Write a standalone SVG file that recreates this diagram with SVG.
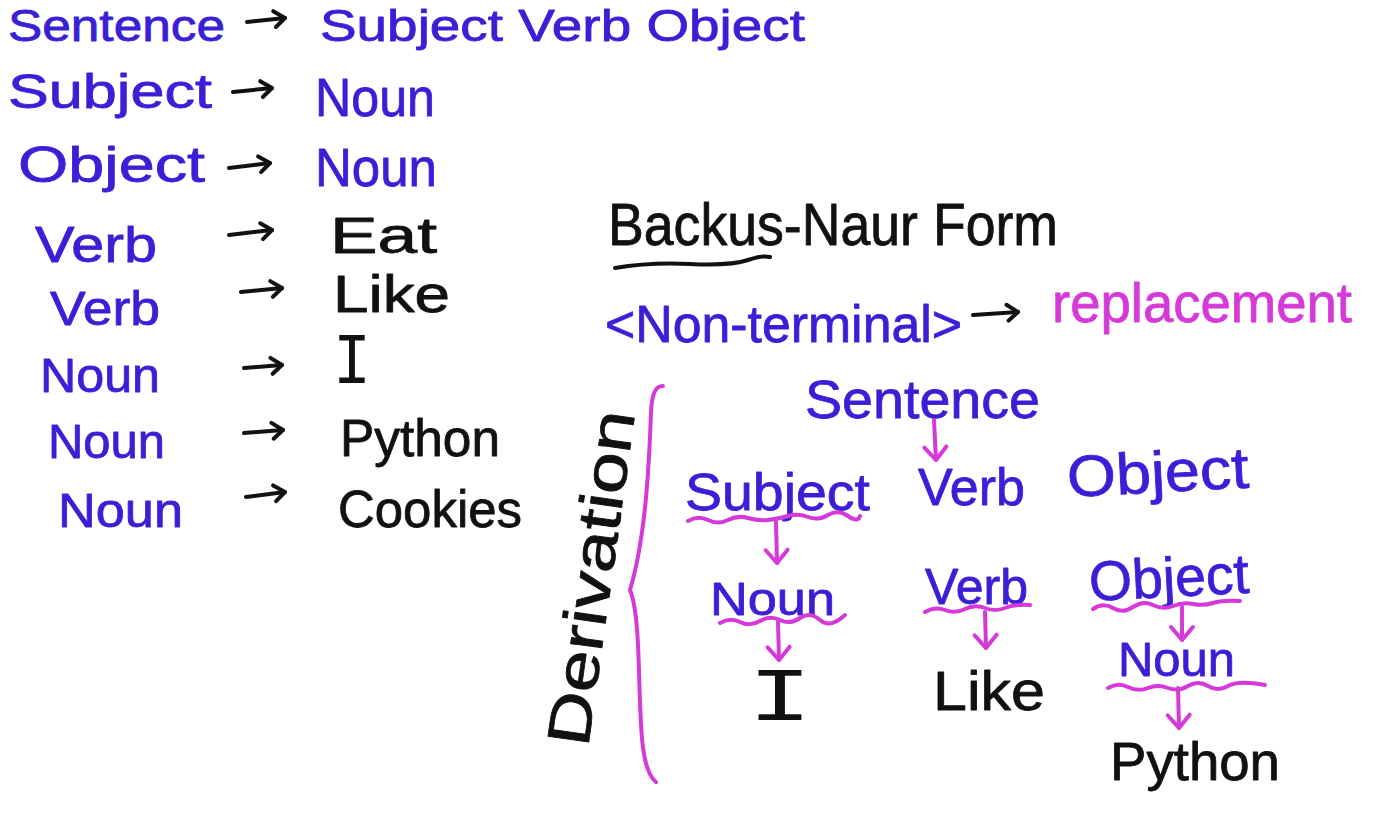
<svg xmlns="http://www.w3.org/2000/svg" width="1373" height="822" viewBox="0 0 1373 822">
<style>
text{font-family:"Liberation Sans","DejaVu Sans",sans-serif;stroke-width:0.8;stroke-linejoin:round}
.b{fill:#3a1fd6;stroke:#3a1fd6}
.k{fill:#111;stroke:#111}
.m{fill:#d53ad8;stroke:#d53ad8}
.mono{font-family:"Liberation Mono","DejaVu Sans Mono",monospace;stroke-width:0}
.ka{fill:none;stroke:#111;stroke-width:4;stroke-linecap:round;marker-end:url(#hk)}
.ma{fill:none;stroke:#d53ad8;stroke-width:4;stroke-linecap:round;marker-end:url(#hm)}
.ul{fill:none;stroke:#d53ad8;stroke-width:4;stroke-linecap:round;stroke-linejoin:round}
</style>
<defs>
<marker id="hk" markerUnits="userSpaceOnUse" viewBox="-15 -15 30 30" markerWidth="30" markerHeight="30" refX="0" refY="0" orient="auto" overflow="visible">
<path d="M-11,-8 L0,0 L-10,8" fill="none" stroke="#111" stroke-width="4" stroke-linecap="round" stroke-linejoin="round"/>
</marker>
<marker id="hm" markerUnits="userSpaceOnUse" viewBox="-15 -15 30 30" markerWidth="30" markerHeight="30" refX="0" refY="0" orient="auto" overflow="visible">
<path d="M-13,-11 L0,0 L-13,11" fill="none" stroke="#d53ad8" stroke-width="4" stroke-linecap="round" stroke-linejoin="round"/>
</marker>
</defs>
<rect width="1373" height="822" fill="#fff"/>

<g id="rules">
<g id="rule1"><text class="b" x="8" y="41" font-size="44" textLength="217" lengthAdjust="spacingAndGlyphs">Sentence</text><text class="b" x="320" y="41" font-size="44" textLength="485" lengthAdjust="spacingAndGlyphs">Subject Verb Object</text></g>
<g id="rule2"><text class="b" x="8" y="108" font-size="48" textLength="204" lengthAdjust="spacingAndGlyphs">Subject</text><text class="b" x="315" y="116" font-size="54" textLength="120" lengthAdjust="spacingAndGlyphs">Noun</text></g>
<g id="rule3"><text class="b" x="18" y="182" font-size="50" textLength="187" lengthAdjust="spacingAndGlyphs">Object</text><text class="b" x="315" y="186" font-size="54" textLength="122" lengthAdjust="spacingAndGlyphs">Noun</text></g>
<g id="rule4"><text class="b" x="35" y="262" font-size="50" textLength="122" lengthAdjust="spacingAndGlyphs">Verb</text><text class="k" x="330" y="253" font-size="50" textLength="107" lengthAdjust="spacingAndGlyphs">Eat</text></g>
<g id="rule5"><text class="b" x="50" y="325" font-size="48" textLength="110" lengthAdjust="spacingAndGlyphs">Verb</text><text class="k" x="333" y="312" font-size="52" textLength="117" lengthAdjust="spacingAndGlyphs">Like</text></g>
<g id="rule6"><text class="b" x="40" y="392" font-size="48" textLength="120" lengthAdjust="spacingAndGlyphs">Noun</text><text class="k mono" x="333" y="383" font-size="72" textLength="38" lengthAdjust="spacingAndGlyphs">I</text></g>
<g id="rule7"><text class="b" x="48" y="458" font-size="48" textLength="117" lengthAdjust="spacingAndGlyphs">Noun</text><text class="k" x="340" y="456" font-size="52" textLength="160" lengthAdjust="spacingAndGlyphs">Python</text></g>
<g id="rule8"><text class="b" x="58" y="527" font-size="48" textLength="125" lengthAdjust="spacingAndGlyphs">Noun</text><text class="k" x="338" y="527" font-size="52" textLength="184" lengthAdjust="spacingAndGlyphs">Cookies</text></g>
</g>

<g id="bnf">
<text class="k" x="608" y="245" font-size="60" textLength="450" lengthAdjust="spacingAndGlyphs">Backus-Naur Form</text>
<path d="M615,268 Q650,262 690,264 Q730,266 748,260 Q762,255 770,257" fill="none" stroke="#111" stroke-width="4" stroke-linecap="round"/>
<text class="b" x="605" y="342" font-size="52" textLength="357" lengthAdjust="spacingAndGlyphs">&lt;Non-terminal&gt;</text>
<text class="m" x="1052" y="322" font-size="56" textLength="300" lengthAdjust="spacingAndGlyphs">replacement</text>
</g>

<g id="derivation-label">
<text class="k" transform="translate(588,748) rotate(-82)" x="0" y="0" font-size="60" textLength="338" lengthAdjust="spacingAndGlyphs">Derivation</text>
<path d="M663,386 C655,386 652,394 651,412 C649,470 645,540 630,590 C642,620 637,700 643,748 C646,770 651,778 656,782" fill="none" stroke="#d53ad8" stroke-width="4" stroke-linecap="round"/>
</g>

<g id="tree">
<g id="n-sentence"><text class="b" x="805" y="418" font-size="54" textLength="235" lengthAdjust="spacingAndGlyphs">Sentence</text></g>
<g id="n-subject"><text class="b" x="685" y="510" font-size="52" textLength="185" lengthAdjust="spacingAndGlyphs">Subject</text></g>
<g id="n-verb"><text class="b" x="918" y="505" font-size="52" textLength="107" lengthAdjust="spacingAndGlyphs">Verb</text></g>
<g id="n-object"><text class="b" x="1068" y="497" font-size="58" textLength="182" lengthAdjust="spacingAndGlyphs" transform="rotate(-3 1068 497)">Object</text></g>
<g id="n-noun1"><text class="b" x="710" y="615" font-size="46" textLength="125" lengthAdjust="spacingAndGlyphs">Noun</text></g>
<g id="n-verb2"><text class="b" x="925" y="604" font-size="50" textLength="103" lengthAdjust="spacingAndGlyphs">Verb</text></g>
<g id="n-object2"><text class="b" x="1090" y="601" font-size="56" textLength="160" lengthAdjust="spacingAndGlyphs" transform="rotate(-3 1090 601)">Object</text></g>
<g id="n-i"><text class="k mono" x="748" y="720" font-size="76" textLength="64" lengthAdjust="spacingAndGlyphs">I</text></g>
<g id="n-like"><text class="k" x="933" y="710" font-size="56" textLength="112" lengthAdjust="spacingAndGlyphs">Like</text></g>
<g id="n-noun2"><text class="b" x="1118" y="676" font-size="48" textLength="117" lengthAdjust="spacingAndGlyphs">Noun</text></g>
<g id="n-python"><text class="k" x="1110" y="780" font-size="54" textLength="170" lengthAdjust="spacingAndGlyphs">Python</text></g>
</g>

<g id="connectors">
<path class="ka" d="M247,22 L285,18"/>
<path class="ka" d="M233,92 L272,88"/>
<path class="ka" d="M229,168 L270,163"/>
<path class="ka" d="M229,235 L272,230"/>
<path class="ka" d="M241,292 L282,288"/>
<path class="ka" d="M244,368 L282,365"/>
<path class="ka" d="M244,433 L283,430"/>
<path class="ka" d="M246,497 L285,492"/>
<path class="ka" d="M973,315 L1018,312"/>
<path class="ma" d="M934,420 L936,460"/>
<path class="ul" d="M688,521 Q698,515 708,520 T728,520 T748,518 T768,520 T788,516 T808,517 T828,515 T848,516 T860,516"/>
<path class="ma" d="M776,522 L777,563"/>
<path class="ul" d="M720,623 Q730,617 740,622 T760,621 T780,620 T800,618 T820,620 T845,615"/>
<path class="ma" d="M778,622 L779,660"/>
<path class="ul" d="M925,612 Q935,606 945,610 T965,609 T985,608 T1005,608 T1030,605"/>
<path class="ma" d="M985,612 L986,648"/>
<path class="ul" d="M1093,609 Q1103,602 1113,608 T1133,607 T1153,605 T1173,606 T1193,604 T1213,603 T1240,601"/>
<path class="ma" d="M1182,607 L1182,640"/>
<path class="ul" d="M1108,688 Q1118,682 1128,687 T1148,688 T1168,688 T1188,686 T1208,686 T1228,686 T1265,685"/>
<path class="ma" d="M1178,688 L1179,728"/>
</g>
</svg>
